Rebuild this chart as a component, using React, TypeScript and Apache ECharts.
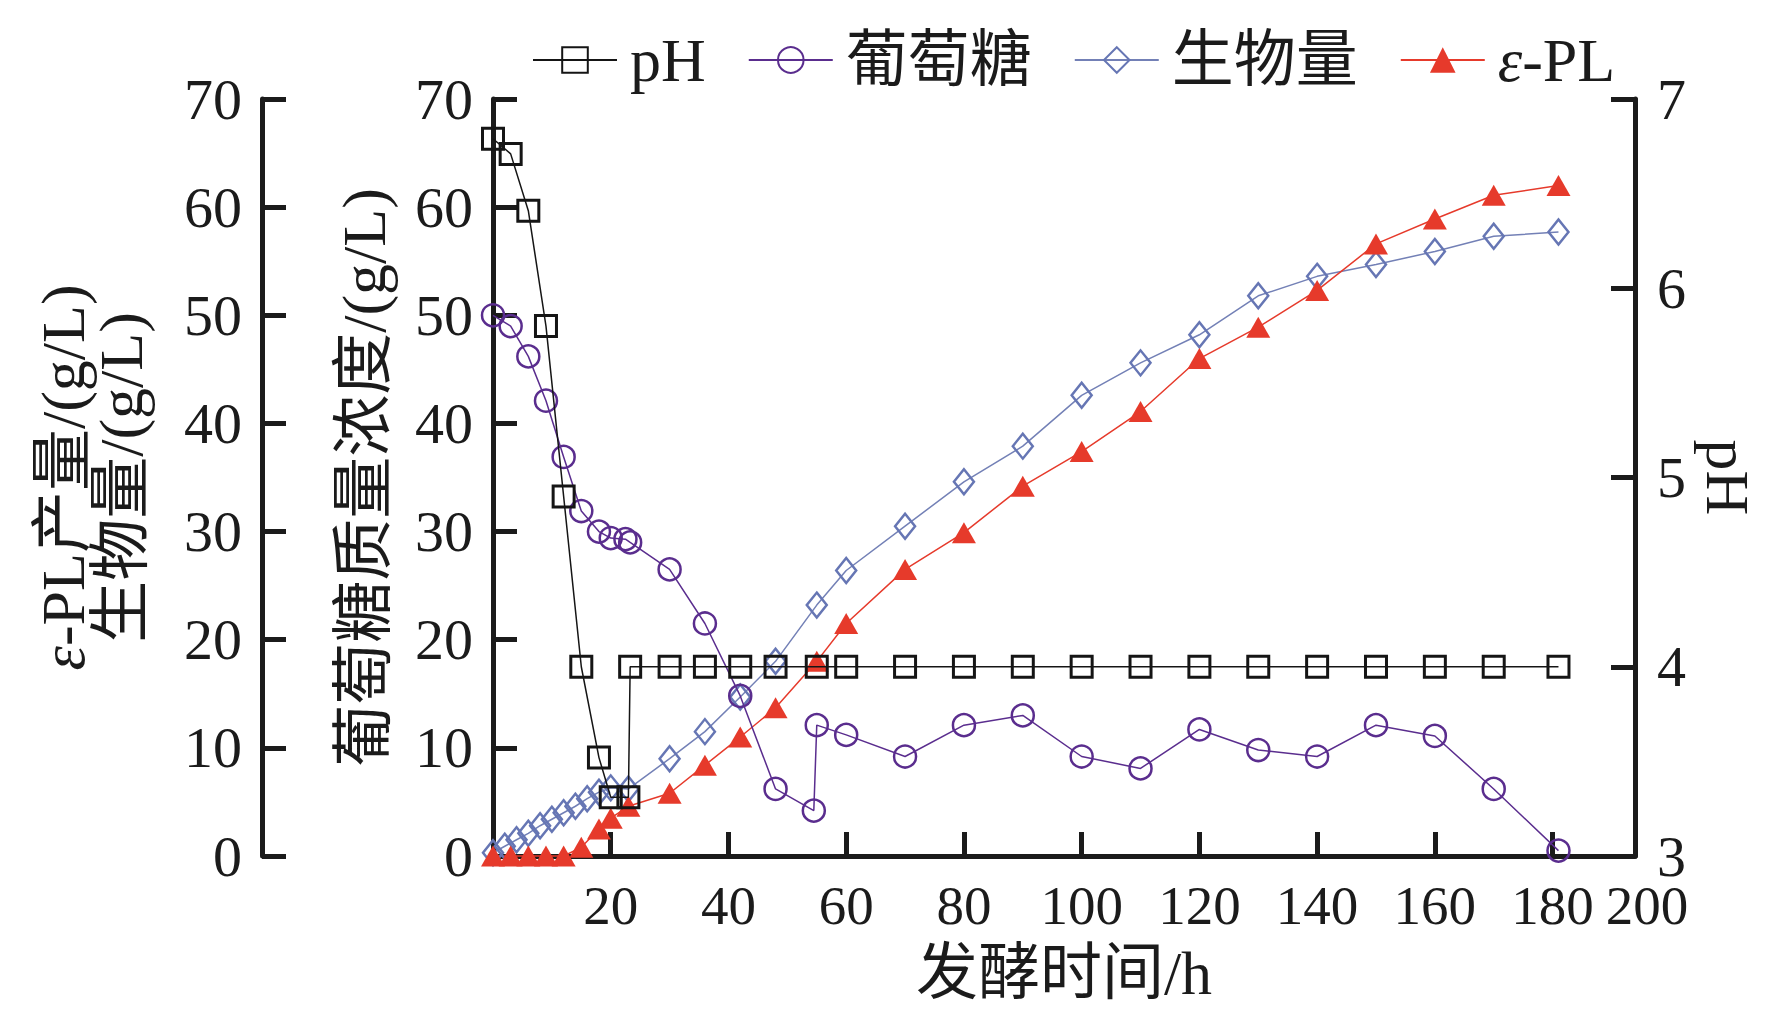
import { useEffect, useRef } from "react";
import * as echarts from "echarts";

// fermentation time (h) for each measured series
const phTime = [0, 3, 6, 9, 12, 15, 18, 20, 23, 23.3, 30, 36, 42, 48, 55, 60, 70, 80, 90, 100, 110, 120, 130, 140, 150, 160, 170, 181];
const phValue = [6.79, 6.71, 6.41, 5.8, 4.9, 4.0, 3.52, 3.31, 3.31, 4.0, 4.0, 4.0, 4.0, 4.0, 4.0, 4.0, 4.0, 4.0, 4.0, 4.0, 4.0, 4.0, 4.0, 4.0, 4.0, 4.0, 4.0, 4.0];

const glucoseTime = [0, 3, 6, 9, 12, 15, 18, 20, 22.5, 23.3, 30, 36, 42, 48, 54.5, 55, 60, 70, 80, 90, 100, 110, 120, 130, 140, 150, 160, 170, 181];
const glucoseValue = [50.0, 49.0, 46.2, 42.1, 36.9, 31.9, 30.0, 29.4, 29.3, 29.0, 26.5, 21.5, 14.8, 6.2, 4.2, 12.1, 11.2, 9.2, 12.1, 13.0, 9.2, 8.1, 11.7, 9.8, 9.2, 12.1, 11.1, 6.2, 0.5];

const biomassTime = [0, 2, 4, 6, 8, 10, 12, 14, 16, 18, 20, 23, 30, 36, 42, 48, 55, 60, 70, 80, 90, 100, 110, 120, 130, 140, 150, 160, 170, 181];
const biomassValue = [0.3, 0.9, 1.5, 2.1, 2.8, 3.4, 4.0, 4.6, 5.3, 5.9, 6.3, 6.2, 9.0, 11.5, 14.7, 18.0, 23.2, 26.4, 30.5, 34.6, 37.9, 42.6, 45.6, 48.2, 51.8, 53.6, 54.7, 55.9, 57.3, 57.7];

const eplTime = [0, 3, 6, 9, 12, 15, 18, 20, 23, 30, 36, 42, 48, 55, 60, 70, 80, 90, 100, 110, 120, 130, 140, 150, 160, 170, 181];
const eplValue = [0, 0, 0, 0, 0, 0.8, 2.5, 3.5, 4.6, 5.8, 8.4, 11.0, 13.7, 18.0, 21.5, 26.5, 29.9, 34.2, 37.4, 41.1, 46.0, 48.9, 52.3, 56.6, 58.9, 61.1, 62.0];

const seriesNames = ["pH", "葡萄糖", "生物量", "ε-PL"];
// the printed axis stops a little short of 200, its end is still labelled "200"
const xScale = { min: 0, max: 194, interval: 20 };
const xTickLabels = [20, 40, 60, 80, 100, 120, 140, 160, 180];
const xEndLabel = "200";

const SERIF = '"Liberation Serif", "Times New Roman", "Noto Sans CJK SC", serif';
const INK = "#1b1b1b";
const FS = 58;
const X_FS = 55;
const NAME_FS = 62;

const zip = (t: number[], v: number[]) => t.map((x, i) => [x, v[i]]);

function axisBase() {
  return {
    axisLine: { show: true, onZero: false, lineStyle: { color: INK, width: 5 } },
    axisTick: { show: true, inside: true, length: 24, lineStyle: { color: INK, width: 5 } },
    splitLine: { show: false },
    axisLabel: { color: INK, fontFamily: SERIF, fontSize: FS, margin: 20 },
    nameTextStyle: { color: INK, fontFamily: SERIF, fontSize: NAME_FS },
  };
}

function buildOption() {
  return {
    animation: false,
    backgroundColor: "#fff",
    textStyle: { fontFamily: SERIF },
    legend: {
      data: seriesNames,
      left: 527,
      top: 24,
      itemWidth: 84,
      itemHeight: 32,
      itemGap: 42,
      formatter: (n: string) => (n === "ε-PL" ? "{i|ε}-PL" : n),
      textStyle: {
        color: INK,
        fontFamily: SERIF,
        fontSize: 62,
        padding: [0, 0, 0, 8],
        rich: { i: { fontStyle: "italic", fontFamily: SERIF, fontSize: 62, color: INK } },
      },
    },
    grid: { left: 493, right: 133, top: 99, bottom: 160 },
    xAxis: [
      {
        type: "value",
        position: "bottom",
        ...xScale,
        ...axisBase(),
        axisLabel: {
          color: INK,
          fontFamily: SERIF,
          fontSize: X_FS,
          margin: 22,
          customValues: xTickLabels,
          formatter: (v: number) => String(v),
        },
        name: "发酵时间/h",
        nameLocation: "middle",
        nameGap: 86,
      },
      {
        // carries only the end label, set a little right of the axis end as printed
        type: "value",
        position: "bottom",
        ...xScale,
        axisLine: { show: false, onZero: false },
        axisTick: { show: false },
        splitLine: { show: false },
        axisLabel: {
          color: INK,
          fontFamily: SERIF,
          fontSize: X_FS,
          margin: 22,
          padding: [0, 0, 0, 24],
          customValues: [xScale.max],
          formatter: () => xEndLabel,
        },
      },
    ],
    yAxis: [
      {
        type: "value",
        position: "left",
        min: 0,
        max: 70,
        interval: 10,
        ...axisBase(),
        name: "葡萄糖质量浓度/(g/L)",
        nameLocation: "middle",
        nameRotate: 90,
        nameGap: 98,
      },
      {
        type: "value",
        position: "left",
        offset: 231,
        min: 0,
        max: 70,
        interval: 10,
        ...axisBase(),
        name: "{i|ε}-PL产量/(g/L)\n生物量/(g/L)",
        nameLocation: "middle",
        nameRotate: 90,
        nameGap: 112,
        nameTextStyle: {
          color: INK,
          fontFamily: SERIF,
          fontSize: NAME_FS,
          lineHeight: 58,
          rich: { i: { fontStyle: "italic", fontFamily: SERIF, fontSize: NAME_FS, color: INK, lineHeight: 58 } },
        },
      },
      {
        type: "value",
        position: "right",
        min: 3,
        max: 7,
        interval: 1,
        ...axisBase(),
        axisLabel: { color: INK, fontFamily: SERIF, fontSize: FS, margin: 22 },
        name: "pH",
        nameLocation: "middle",
        nameRotate: -90,
        nameGap: 62,
      },
    ],
    series: [
      {
        name: "pH",
        type: "line",
        yAxisIndex: 2,
        data: zip(phTime, phValue),
        symbol: "rect",
        symbolSize: 21,
        clip: false,
        z: 5,
        lineStyle: { color: "#151515", width: 1.5 },
        itemStyle: { color: "rgba(0,0,0,0)", borderColor: "#151515", borderWidth: 3 },
      },
      {
        name: "葡萄糖",
        type: "line",
        yAxisIndex: 0,
        data: zip(glucoseTime, glucoseValue),
        symbol: "circle",
        symbolSize: 22,
        clip: false,
        z: 4,
        lineStyle: { color: "#5a2d8e", width: 1.5 },
        itemStyle: { color: "rgba(0,0,0,0)", borderColor: "#5a2d8e", borderWidth: 2.5 },
      },
      {
        name: "生物量",
        type: "line",
        yAxisIndex: 1,
        data: zip(biomassTime, biomassValue),
        symbol: "diamond",
        symbolSize: [20, 25],
        clip: false,
        z: 3,
        lineStyle: { color: "#7380b6", width: 1.5 },
        itemStyle: { color: "rgba(0,0,0,0)", borderColor: "#6676b4", borderWidth: 2.5 },
      },
      {
        name: "ε-PL",
        type: "line",
        yAxisIndex: 1,
        data: zip(eplTime, eplValue),
        symbol: "triangle",
        symbolSize: [24, 21],
        clip: false,
        z: 3,
        lineStyle: { color: "#e63a2b", width: 1.5 },
        itemStyle: { color: "#e63a2b" },
      },
    ],
  };
}

export default function App() {
  const chartRef = useRef<HTMLDivElement>(null);

  useEffect(() => {
    if (!chartRef.current) return;
    const chart = echarts.init(chartRef.current, null, { renderer: "svg" });
    chart.setOption(buildOption() as any);
    return () => {
      chart.dispose();
    };
  }, []);

  return (
    <div
      ref={chartRef}
      style={{ position: "fixed", left: 0, top: 0, width: 1768, height: 1016, background: "#fff" }}
    />
  );
}
